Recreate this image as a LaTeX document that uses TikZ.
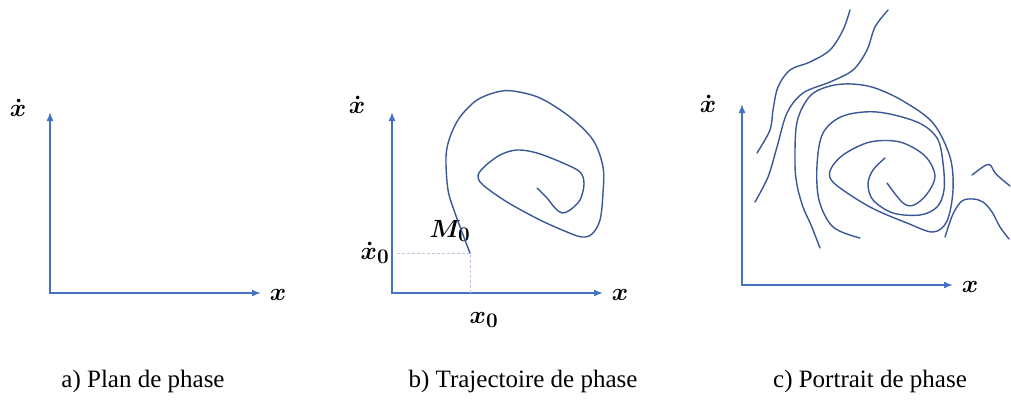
\documentclass[tikz,border=0pt]{standalone}
\usepackage{fontspec}
\setmainfont{Liberation Serif}
\usetikzlibrary{arrows.meta}
\definecolor{axisblue}{RGB}{68,114,196}
\definecolor{curveblue}{RGB}{58,88,150}
\definecolor{guidegray}{RGB}{185,196,222}
\begin{document}
\begin{tikzpicture}[x=1pt, y=-1pt,
    axis/.style={line width=1.6pt, axisblue, {Latex[length=9pt, width=7pt]}-{Latex[length=9pt, width=7pt]}},
    traj/.style={line width=1.4pt, curveblue, line cap=round, smooth, tension=0.55},
    guide/.style={line width=0.9pt, guidegray, densely dashed},
    varlabel/.style={inner sep=0pt, font=\fontsize{28}{32}\selectfont\boldmath},
    caption/.style={inner sep=0pt, font=\fontsize{25}{30}\selectfont}]
  % Axes of one panel: #1 = prefix of the names, #2 = origin, #3 = end of the x-axis, #4 = top of the y-axis.
  \newcommand{\phaseaxes}[4]{%
    \coordinate (#1o) at #2;
    \coordinate (#1x) at #3;
    \coordinate (#1y) at #4;
    \draw[axis] (#1y) -- (#1o) -- (#1x);}

  \useasboundingbox (0,0) rectangle (1011,405);

  % a) phase plane
  \phaseaxes{a}{(50,293)}{(261,293)}{(50,112)}
  \node[varlabel] (adot) at (18,108) {$\dot{x}$};
  \node[varlabel] (ax) at (278,295) {$x$};
  \node[caption] (acap) at (143,381) {a) Plan de phase};

  % b) one trajectory, starting at M_0
  \phaseaxes{b}{(392,293)}{(603,293)}{(392,112)}
  \node[varlabel] (bdot) at (357,105) {$\dot{x}$};
  \node[varlabel] (bx) at (620,295) {$x$};
  \coordinate (m0) at (470,253);
  \draw[guide] ([xshift=5pt]m0 -| bo) -- (m0) -- (m0 |- bo);
  \node[varlabel] (bx0) at (484,320) {$x_0$};
  \node[varlabel] (bdot0) at (375,253) {$\dot{x}_0$};
  \node[varlabel] (bm0) at (450,231) {$M_0$};
  \draw[traj] plot coordinates {(m0) (465,240) (455,213) (448,190) (446,157) (450,137)
    (460,117) (477,100) (497,92) (513,91) (540,98) (570,117) (593,140) (603,167)
    (603,193) (600,220) (592,234) (582,237) (567,232) (540,220) (507,202) (483,185)
    (478,176) (484,167) (500,155) (517,150) (537,153) (563,163) (580,172) (584,184)
    (580,200) (570,210) (562,213) (555,208) (547,198) (537,188)};
  \node[caption] (bcap) at (523,381) {b) Trajectoire de phase};

  % c) phase portrait: several trajectories
  \phaseaxes{c}{(742,285)}{(953,285)}{(742,104)}
  \node[varlabel] (cdot) at (708,104) {$\dot{x}$};
  \node[varlabel] (cx) at (970,287) {$x$};
  \draw[traj] plot coordinates {(850,10) (843,30) (830,50) (810,62) (790,70) (778,87)
    (773,110) (770,130) (757,153)};
  \draw[traj] plot coordinates {(888,10) (875,27) (867,50) (853,70) (830,82) (803,93)
    (787,113) (777,147) (768,177) (755,202)};
  \draw[traj] plot coordinates {(820,248) (811,225) (803,207) (797,185) (795,163)
    (797,122) (810,96) (830,86) (852,84) (875,88) (903,101) (933,123) (950,157)
    (953,190) (947,221) (933,232) (907,223) (870,207) (835,184) (830,171) (843,155)
    (870,142) (900,142) (925,156) (935,176) (927,194) (914,205) (903,203) (887,183)};
  \draw[traj] plot coordinates {(860,238) (833,227) (819,200) (817,165) (823,133)
    (843,116) (877,112) (917,122) (937,138) (943,163) (944,190) (937,207) (920,215)
    (893,213) (873,200) (868,184) (873,170) (885,158)};
  \draw[traj] plot coordinates {(945,237) (953,214) (962,201) (973,199) (983,202)
    (992,212) (1000,227) (1009,239)};
  \draw[traj] plot coordinates {(972,175) (986,165) (991,166) (996,174) (1010,186)};
  \node[caption] (ccap) at (870,381) {c) Portrait de phase};
\end{tikzpicture}
\end{document}
